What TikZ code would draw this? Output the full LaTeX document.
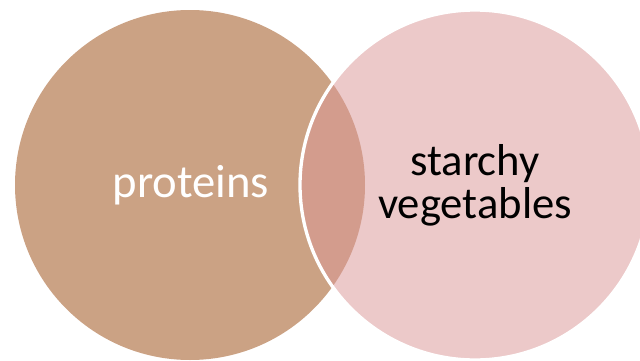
\documentclass[tikz,border=0pt]{standalone}
\usepackage{fontspec}
\setmainfont{Carlito}
\definecolor{leftc}{HTML}{CBA284}
\definecolor{rightc}{HTML}{ECC9C9}
\definecolor{overc}{HTML}{D39C8D}
\begin{document}
\begin{tikzpicture}[x=0.75pt,y=-0.75pt,
  lbl/.style={font=\fontsize{33.5}{32}\selectfont, inner sep=0pt}]
\useasboundingbox (0,0) rectangle (640,361);
\coordinate (cl) at (190,185);
\coordinate (cr) at (475,185);
\fill[leftc] (cl) circle (175);
\fill[rightc] (cr) circle (175);
\begin{scope}
  \clip (cl) circle (175);
  \fill[overc] (cr) circle (175);
\end{scope}
\draw[white, line width=2.5pt] (cr) circle (175);
\node[lbl, text=white, anchor=base, font=\fontsize{35}{32}\selectfont] (prot) at (191,197) {proteins};
\node[lbl, text=black, anchor=base] (starchy) at (475,175) {starchy};
\node[lbl, text=black, anchor=base] (veg) at (475,218) {vegetables};
\end{tikzpicture}
\end{document}
